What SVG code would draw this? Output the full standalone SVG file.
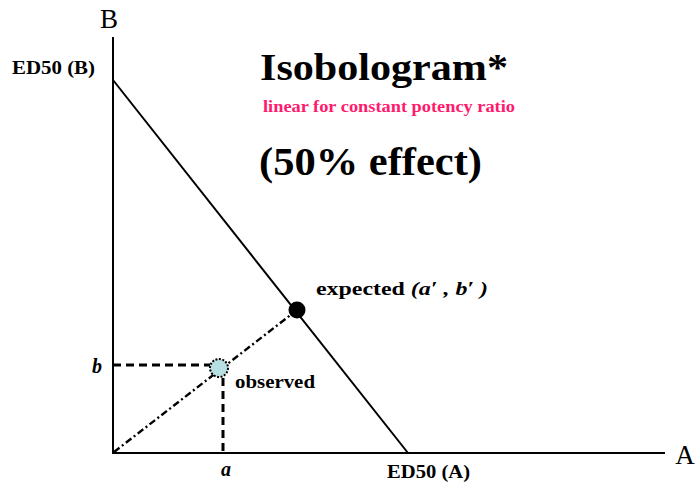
<svg xmlns="http://www.w3.org/2000/svg" width="698" height="491" viewBox="0 0 698 491">
<style>
.t{font-family:"Liberation Serif","Times New Roman",serif;fill:#000}
.b{font-weight:bold}
.i{font-style:italic}
.ax{stroke:#000;stroke-width:2;fill:none}
.dash{stroke:#000;stroke-width:3;stroke-dasharray:8,5;fill:none}
.dd{stroke:#000;stroke-width:2.4;stroke-dasharray:7,3,2,3;fill:none}
</style>
<rect width="698" height="491" fill="#fff"/>
<g id="axes">
<line class="ax" x1="113" y1="37" x2="113" y2="454"/>
<line class="ax" x1="112" y1="453" x2="665" y2="453"/>
<text class="t" x="109" y="28" font-size="27" text-anchor="middle">B</text>
<text class="t" x="685" y="464" font-size="27" text-anchor="middle">A</text>
</g>
<g id="connectors">
<line class="ax" x1="113" y1="80" x2="408" y2="453"/>
<line class="dd" x1="114" y1="452" x2="297" y2="310"/>
<line class="dash" x1="113" y1="365" x2="210" y2="365"/>
<line class="dash" x1="223" y1="378" x2="223" y2="453"/>
</g>
<g id="expected">
<circle cx="297" cy="310" r="8.5" fill="#000"/>
<text class="t b" x="316" y="295" font-size="18" textLength="172" lengthAdjust="spacingAndGlyphs">expected <tspan class="i">(a′ , b′ )</tspan></text>
</g>
<g id="observed">
<circle cx="219" cy="368" r="9" fill="#b7e0e3" stroke="#000" stroke-width="2" stroke-dasharray="2,1.5"/>
<text class="t b" x="235" y="388" font-size="18" textLength="80" lengthAdjust="spacingAndGlyphs">observed</text>
</g>
<g id="labels">
<text class="t b" x="12" y="74" font-size="18" textLength="83" lengthAdjust="spacingAndGlyphs">ED50 (B)</text>
<text class="t b" x="387" y="478" font-size="18" textLength="83" lengthAdjust="spacingAndGlyphs">ED50 (A)</text>
<text class="t b i" x="97" y="373" font-size="20" text-anchor="middle">b</text>
<text class="t b i" x="226" y="476" font-size="20" text-anchor="middle">a</text>
<text class="t b" x="260" y="80" font-size="38" textLength="248" lengthAdjust="spacingAndGlyphs">Isobologram*</text>
<text class="t b" x="263" y="112" font-size="17" textLength="252" lengthAdjust="spacingAndGlyphs" style="fill:#ff1a6e">linear for constant potency ratio</text>
<text class="t b" x="259" y="175" font-size="40" textLength="223" lengthAdjust="spacingAndGlyphs">(50% effect)</text>
</g>
</svg>
